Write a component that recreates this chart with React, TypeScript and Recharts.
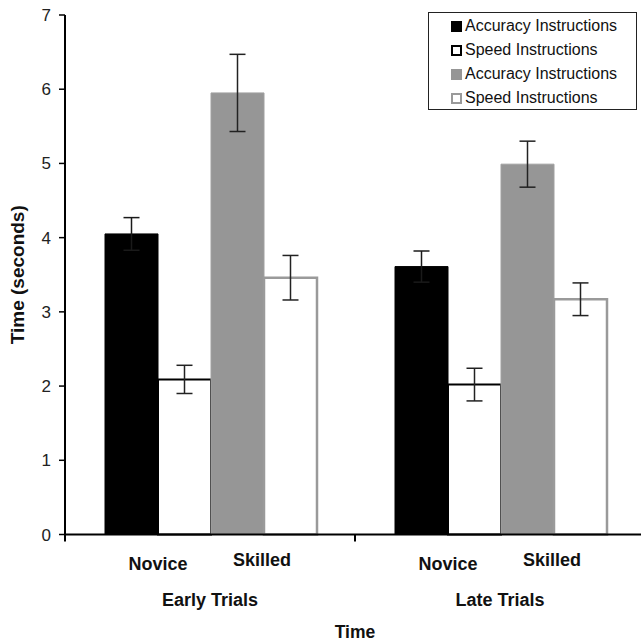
import React from 'react';
import { BarChart, Bar, XAxis, YAxis, ErrorBar, Legend } from 'recharts';

const groups = ['Early Trials', 'Late Trials'];
const subLabels = ['Novice', 'Skilled'];
const noviceAccuracy = [4.05, 3.61];
const noviceAccuracyErr = [0.22, 0.21];
const noviceSpeed = [2.09, 2.02];
const noviceSpeedErr = [0.19, 0.22];
const skilledAccuracy = [5.95, 4.99];
const skilledAccuracyErr = [0.52, 0.31];
const skilledSpeed = [3.46, 3.17];
const skilledSpeedErr = [0.3, 0.22];
const legendLabels = ['Accuracy Instructions', 'Speed Instructions', 'Accuracy Instructions', 'Speed Instructions'];
const yTicks = [0, 1, 2, 3, 4, 5, 6, 7];

const data = groups.map((g, i) => ({
  group: g,
  na: noviceAccuracy[i],
  naErr: noviceAccuracyErr[i],
  ns: noviceSpeed[i],
  nsErr: noviceSpeedErr[i],
  sa: skilledAccuracy[i],
  saErr: skilledAccuracyErr[i],
  ss: skilledSpeed[i],
  ssErr: skilledSpeedErr[i],
}));

const CHART_W = 645;
const CHART_H = 642;
const Y_AXIS_W = 65;
const PLOT_W = CHART_W - Y_AXIS_W;
const FONT = '"Liberation Sans", Arial, Helvetica, sans-serif';
const GRAY = '#969696';

const legendSwatches = [
  { fill: '#000', border: '#000' },
  { fill: '#fff', border: '#000' },
  { fill: GRAY, border: GRAY },
  { fill: '#fff', border: '#9a9a9a' },
];

const XTick = (props: any) => {
  const { x, y, payload, index } = props;
  const half = PLOT_W / (2 * groups.length);
  const sub = 52;
  const isLast = index === groups.length - 1 || payload.value === groups[groups.length - 1];
  const bold = { fontFamily: FONT, fontWeight: 700, fill: '#111' } as any;
  return (
    <g>
      <line x1={x - half} x2={x - half} y1={y} y2={y + 7} stroke="#000" strokeWidth={2} />
      {isLast && <line x1={x + half} x2={x + half} y1={y} y2={y + 7} stroke="#000" strokeWidth={2} />}
      <text x={x - sub} y={y + 35} textAnchor="middle" fontSize={18} {...bold}>{subLabels[0]}</text>
      <text x={x + sub} y={y + 31} textAnchor="middle" fontSize={18} {...bold}>{subLabels[1]}</text>
      <text x={x} y={y + 71} textAnchor="middle" fontSize={18} {...bold}>{payload.value}</text>
    </g>
  );
};

const renderLegend = () => (
  <div
    style={{
      border: '1px solid #222',
      width: 209,
      height: 98,
      boxSizing: 'border-box',
      fontFamily: FONT,
      fontSize: 16,
      color: '#111',
      paddingTop: 1,
      background: '#fff',
    }}
  >
    {legendLabels.map((lab, i) => (
      <div key={i} style={{ height: 24, display: 'flex', alignItems: 'center' }}>
        <div
          style={{
            width: 11,
            height: 11,
            marginLeft: 22,
            flexShrink: 0,
            boxSizing: 'border-box',
            background: legendSwatches[i].fill,
            border: `2px solid ${legendSwatches[i].border}`,
          }}
        />
        <span style={{ marginLeft: 3, whiteSpace: 'nowrap' }}>{lab}</span>
      </div>
    ))}
  </div>
);

export default function App() {
  return (
    <div style={{ position: 'absolute', left: 0, top: 0, width: 641, height: 642, overflow: 'hidden', background: '#fff' }}>
      <BarChart
        width={CHART_W}
        height={CHART_H}
        data={data}
        margin={{ top: 15, right: 0, left: 0, bottom: 7.5 }}
        barGap={0}
        barCategoryGap={40}
      >
        <XAxis
          dataKey="group"
          height={100}
          axisLine={{ stroke: '#000', strokeWidth: 2 }}
          tickLine={false}
          tickSize={0}
          tickMargin={0}
          tick={<XTick />}
          interval={0}
          label={{ value: 'Time', position: 'insideBottom', offset: -3.5, style: { fontFamily: FONT, fontWeight: 700, fontSize: 17.5, fill: '#111' } }}
        />
        <YAxis
          width={Y_AXIS_W}
          domain={[0, 7]}
          ticks={yTicks}
          interval={0}
          axisLine={{ stroke: '#000', strokeWidth: 2 }}
          tickLine={{ stroke: '#000', strokeWidth: 1.5 }}
          tickSize={6}
          tickMargin={8}
          tick={{ fontFamily: FONT, fontSize: 17, fill: '#222' }}
          label={{ value: 'Time (seconds)', angle: -90, position: 'insideLeft', offset: 17, style: { textAnchor: 'middle', fontFamily: FONT, fontWeight: 700, fontSize: 19, fill: '#111' } }}
        />
        <Legend
          content={renderLegend}
          layout="horizontal"
          verticalAlign="middle"
          align="center"
          wrapperStyle={{ left: 428, top: 12, width: 209, height: 98 }}
        />
        <Bar dataKey="na" fill="#000" stroke="#000" strokeWidth={1} isAnimationActive={false}>
          <ErrorBar dataKey="naErr" width={8} stroke="#1a1a1a" strokeWidth={1.5} direction="y" />
        </Bar>
        <Bar dataKey="ns" fill="#fff" stroke="#000" strokeWidth={2} isAnimationActive={false}>
          <ErrorBar dataKey="nsErr" width={8} stroke="#222" strokeWidth={1.5} direction="y" />
        </Bar>
        <Bar dataKey="sa" fill={GRAY} stroke="#a0a0a0" strokeWidth={1} isAnimationActive={false}>
          <ErrorBar dataKey="saErr" width={8} stroke="#222" strokeWidth={1.5} direction="y" />
        </Bar>
        <Bar dataKey="ss" fill="#fff" stroke="#9a9a9a" strokeWidth={2.5} isAnimationActive={false}>
          <ErrorBar dataKey="ssErr" width={8} stroke="#222" strokeWidth={1.5} direction="y" />
        </Bar>
      </BarChart>
    </div>
  );
}
